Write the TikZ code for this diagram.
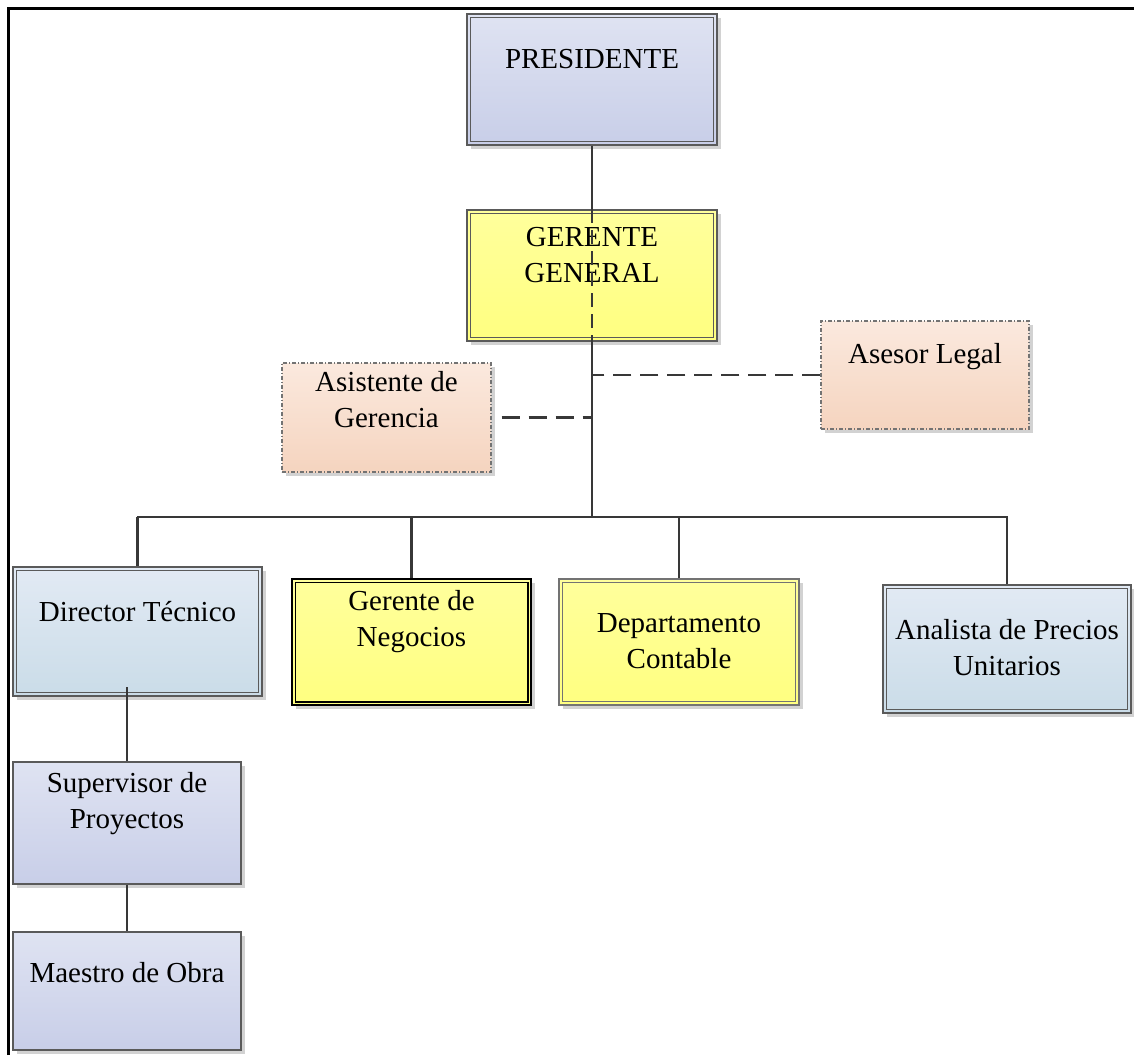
\documentclass[tikz,border=0pt]{standalone}
\usepackage{fontspec}
\setmainfont{Liberation Serif}
\usetikzlibrary{shadows}
\definecolor{lavtop}{HTML}{DFE3F2}
\definecolor{lavbot}{HTML}{C8CEE8}
\definecolor{yeltop}{HTML}{FFFF9C}
\definecolor{yelbot}{HTML}{FFFF80}
\definecolor{pchtop}{HTML}{FBE9DE}
\definecolor{pchbot}{HTML}{F5D4BF}
\definecolor{blutop}{HTML}{E2EAF4}
\definecolor{blubot}{HTML}{CADCE8}
\definecolor{edge}{HTML}{5A5A5A}
\definecolor{wire}{HTML}{383838}
\tikzset{
  box/.style={draw=edge, line width=1.2pt, inner sep=0pt,
    drop shadow={shadow xshift=4pt, shadow yshift=-4pt, fill=black!25, opacity=.7}},
  lav/.style={box, top color=lavtop, bottom color=lavbot},
  yel/.style={box, top color=yeltop, bottom color=yelbot},
  pch/.style={box, draw=black!55, dash pattern=on 4pt off 2pt on 1pt off 2pt,
    top color=pchtop, bottom color=pchbot},
  blu/.style={box, top color=blutop, bottom color=blubot},
  inner/.style={draw=edge, line width=1.2pt},
  txt/.style={align=center, inner sep=0pt, font=\fontsize{29}{36}\selectfont},
  wireline/.style={draw=wire, line width=2.4pt},
  dashline/.style={wireline, dash pattern=on 18pt off 9pt},
}
\begin{document}
\begin{tikzpicture}[x=1pt,y=-1pt]
\useasboundingbox (0,0) rectangle (1134,1055);
% page frame
\draw[line width=3pt] (8,1055) -- (8,8) -- (1134,8);

% boxes
\node[lav, minimum width=250pt, minimum height=131pt] (pres) at (592,79.5) {};
\draw[inner] ([shift={(4,4)}]pres.north west) rectangle ([shift={(-4,-4)}]pres.south east);
\node[txt] (presT) at ([yshift=-46pt]pres.north) {PRESIDENTE};

\node[yel, minimum width=250pt, minimum height=131pt] (gg) at (592,275.5) {};
\draw[inner] ([shift={(4,4)}]gg.north west) rectangle ([shift={(-4,-4)}]gg.south east);
\node[txt] (ggT) at ([yshift=-46pt]gg.north) {GERENTE\\GENERAL};

\node[pch, minimum width=209pt, minimum height=109pt] (asis) at (386.5,417.5) {};
\node[txt] (asisT) at ([yshift=-37pt]asis.north) {Asistente de\\Gerencia};

\node[pch, minimum width=208pt, minimum height=108pt] (ases) at (925,375) {};
\node[txt] (asesT) at ([yshift=-36pt]ases.north) {Asesor Legal};

\node[blu, minimum width=249pt, minimum height=129pt] (dir) at (137.5,631.5) {};
\draw[inner] ([shift={(4,4)}]dir.north west) rectangle ([shift={(-4,-4)}]dir.south east);
\node[txt] (dirT) at ([yshift=-45pt]dir.north) {Director Técnico};

\node[yel, draw=black, line width=2.6pt, minimum width=239pt, minimum height=126pt] (neg) at (411.5,642) {};
\draw[draw=black, line width=1.4pt] ([shift={(4.5,4.5)}]neg.north west) rectangle ([shift={(-4.5,-4.5)}]neg.south east);
\node[txt] (negT) at ([yshift=-44pt]neg.north) {Gerente de\\Negocios};

\node[yel, draw=black!55, minimum width=240pt, minimum height=126pt] (dep) at (679,642) {};
\draw[inner, draw=black!55] ([shift={(4,4)}]dep.north west) rectangle ([shift={(-4,-4)}]dep.south east);
\node[txt] (depT) at ([yshift=-63pt]dep.north) {Departamento\\Contable};

\node[blu, minimum width=248pt, minimum height=128pt] (ana) at (1007,649) {};
\draw[inner] ([shift={(4,4)}]ana.north west) rectangle ([shift={(-4,-4)}]ana.south east);
\node[txt] (anaT) at ([yshift=-63pt]ana.north) {Analista de Precios\\Unitarios};

\node[lav, minimum width=228pt, minimum height=122pt] (sup) at (127,823) {};
\node[txt] (supT) at ([yshift=-42pt]sup.north) {Supervisor de\\Proyectos};

\node[lav, minimum width=228pt, minimum height=118pt] (mae) at (127,991) {};
\node[txt] (maeT) at ([yshift=-41pt]mae.north) {Maestro de Obra};

% connectors
\coordinate (busL) at (137,517);
\coordinate (busR) at (1008,517);
\draw[wireline] (pres.south) -- (gg.north);
\draw[dashline, dash pattern=on 14pt off 7pt] (gg.north) -- (gg.south);
\draw[wireline] (gg.south) -- (gg.south |- busL);
\draw[wireline] (busL) -- (busR);
\draw[wireline] (dir.north) -- (dir.north |- busL);
\draw[wireline] (neg.north) -- (neg.north |- busL);
\draw[wireline] (dep.north) -- (dep.north |- busL);
\draw[wireline] (ana.north) -- (ana.north |- busL);
\draw[dashline] ([xshift=10pt]asis.east) -- (asis.east -| gg.south);
\draw[dashline] (ases.west) -- (ases.west -| gg.south);
\draw[wireline] (sup.north) -- ([yshift=10pt]sup.north |- dir.south);
\draw[wireline] (sup.south) -- (mae.north);
\end{tikzpicture}
\end{document}
